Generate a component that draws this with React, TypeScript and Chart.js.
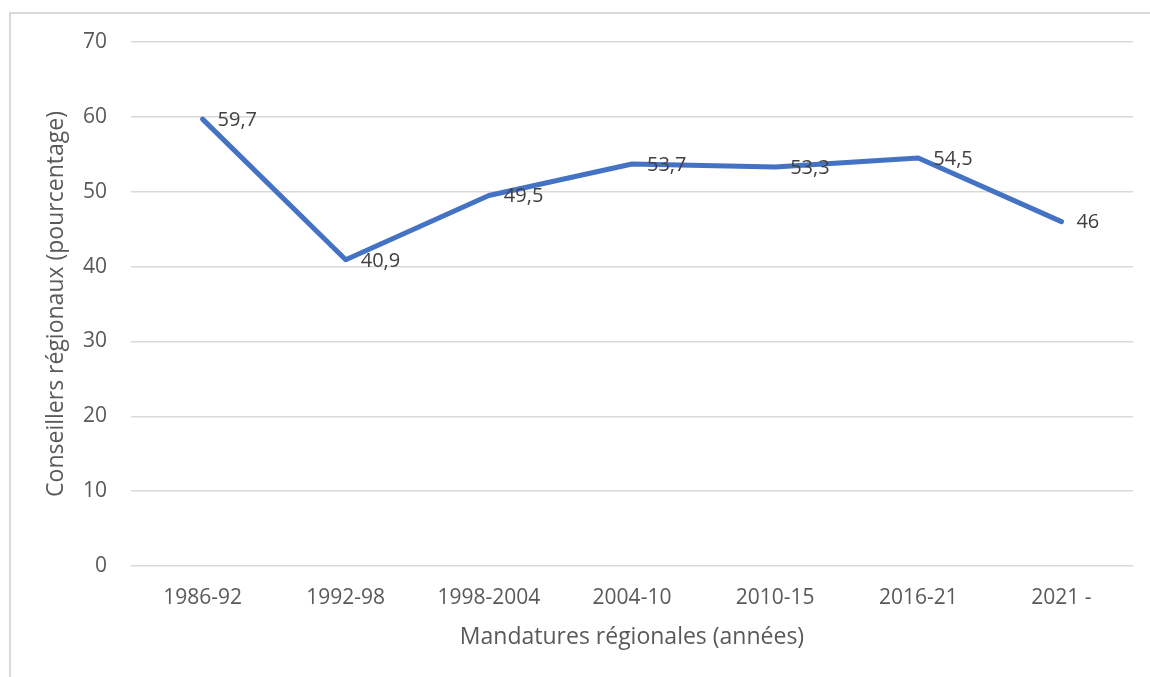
import React, { useEffect, useRef } from "react";
import { Chart, registerables } from "chart.js";

Chart.register(...registerables);

const categories: string[] = ["1986-92", "1992-98", "1998-2004", "2004-10", "2010-15", "2016-21", "2021 -"];
const seriesValues: number[] = [59.7, 40.9, 49.5, 53.7, 53.3, 54.5, 46];
const yTickMin = 0;
const yTickMax = 70;
const yTickStep = 10;
const xTitle = "Mandatures régionales (années)";
const yTitle = "Conseillers régionaux (pourcentage)";

const FONT = "'Open Sans', sans-serif";

const dataLabelPlugin = {
  id: "dataLabels",
  afterDatasetsDraw(chart: any) {
    const ctx = chart.ctx;
    const meta = chart.getDatasetMeta(0);
    ctx.save();
    ctx.font = `20px ${FONT}`;
    ctx.fillStyle = "#404040";
    ctx.textAlign = "left";
    ctx.textBaseline = "middle";
    meta.data.forEach((pt: any, i: number) => {
      const v = seriesValues[i];
      const txt = String(v).replace(".", ",");
      ctx.fillText(txt, pt.x + 15, pt.y + 1);
    });
    ctx.restore();
  },
};

export default function App() {
  const canvasRef = useRef<HTMLCanvasElement | null>(null);

  useEffect(() => {
    if (!canvasRef.current) return;
    const chart = new Chart(canvasRef.current, {
      type: "line",
      data: {
        labels: categories,
        datasets: [
          {
            data: seriesValues,
            borderColor: "#4472C4",
            backgroundColor: "#4472C4",
            borderWidth: 5,
            pointRadius: 0,
            pointHoverRadius: 0,
            tension: 0,
            borderCapStyle: "round",
            borderJoinStyle: "round",
            fill: false,
          },
        ],
      },
      options: {
        responsive: false,
        animation: false,
        events: [],
        layout: { padding: { top: 42, right: 17, bottom: 0, left: 0 } },
        plugins: {
          legend: { display: false },
          tooltip: { enabled: false },
          title: { display: false },
        },
        scales: {
          x: {
            type: "category",
            offset: true,
            grid: { display: false, drawTicks: false },
            border: { display: false },
            ticks: {
              color: "#595959",
              font: { family: FONT, size: 21 },
              padding: 19,
              maxRotation: 0,
              autoSkip: false,
            },
            title: {
              display: true,
              text: xTitle,
              color: "#595959",
              font: { family: FONT, size: 23 },
              padding: { top: 0, bottom: 26 },
            },
            afterFit(scale: any) {
              scale.height = 111;
            },
          },
          y: {
            min: yTickMin,
            max: yTickMax,
            grid: { color: "#d9d9d9", lineWidth: 1.5, drawTicks: false },
            border: { display: false },
            ticks: {
              stepSize: yTickStep,
              color: "#595959",
              font: { family: FONT, size: 21 },
              padding: 24,
            },
            title: {
              display: true,
              text: yTitle,
              color: "#595959",
              font: { family: FONT, size: 23 },
              padding: { top: 43, bottom: 0 },
            },
            afterFit(scale: any) {
              scale.width = 131;
            },
          },
        },
      },
      plugins: [dataLabelPlugin],
    });
    return () => chart.destroy();
  }, []);

  return (
    <div
      style={{
        position: "fixed",
        left: 0,
        top: 0,
        width: 1150,
        height: 677,
        overflow: "hidden",
        background: "#ffffff",
      }}
    >
      <div
        style={{
          position: "absolute",
          left: 9,
          top: 12,
          width: 1300,
          height: 900,
          border: "2px solid #d9d9d9",
          boxSizing: "border-box",
        }}
      />
      <canvas
        ref={canvasRef}
        width={1150}
        height={677}
        style={{ position: "absolute", left: 0, top: 0, width: 1150, height: 677 }}
      />
    </div>
  );
}
